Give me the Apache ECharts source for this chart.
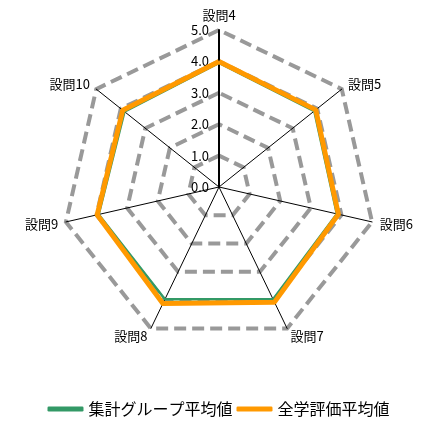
<!DOCTYPE html>
<html>
<head>
<meta charset="utf-8">
<script src="https://cdn.jsdelivr.net/npm/echarts@6/dist/echarts.min.js"></script>
<style>
  html, body { margin: 0; padding: 0; background: #fff; }
  #radar { width: 437px; height: 429px; }
</style>
</head>
<body>
<div id="radar"></div>
<script>
// 設問（上から時計回り）
var questions = ['設問4', '設問5', '設問6', '設問7', '設問8', '設問9', '設問10']
var groupAvg = [3.95, 3.88, 3.85, 3.97, 3.97, 3.93, 3.85]
var allAvg = [4.0, 3.94, 3.9, 4.07, 4.12, 3.98, 3.92]
var seriesNames = ['集計グループ平均値', '全学評価平均値']

// echarts の radar は反時計回りに並ぶので、先頭以外を逆順にする
function toCcw(arr) {
  return [arr[0]].concat(arr.slice(1).reverse())
}

var font = '"Noto Sans CJK JP", sans-serif'
var myChart = echarts.init(document.getElementById('radar'))

var option = {
  animation: false,
  textStyle: { fontFamily: font },
  legend: {
    bottom: 7,
    left: 'center',
    itemWidth: 36,
    itemHeight: 5,
    itemGap: 4,
    icon: 'roundRect',
    textStyle: { fontSize: 16, color: '#000', fontFamily: font },
    data: seriesNames
  },
  radar: {
    center: [219, 187],
    radius: 157,
    shape: 'polygon',
    splitNumber: 5,
    nameGap: 8,
    axisName: { color: '#000', fontSize: 13, fontFamily: font },
    indicator: toCcw(questions).map(function(q, i) {
      // 目盛ラベルは一番上の軸だけ
      return {
        name: q,
        min: 0,
        max: 5,
        axisLabel: { show: i === 0 },
        axisLine: { lineStyle: { color: '#000', width: i === 0 ? 2 : 1 } }
      }
    }),
    axisLine: { lineStyle: { color: '#000', width: 1 } },
    splitLine: {
      lineStyle: { color: '#999', width: 4, type: [12, 6] }
    },
    splitArea: { show: false },
    axisLabel: {
      show: true,
      color: '#000',
      fontSize: 13,
      fontFamily: font,
      margin: 10,
      formatter: function(v) {
        return v.toFixed(1)
      }
    }
  },
  series: [
    {
      type: 'radar',
      symbol: 'none',
      data: [
        {
          name: seriesNames[0],
          value: toCcw(groupAvg),
          lineStyle: { color: '#339966', width: 2.5 },
          itemStyle: { color: '#339966' }
        },
        {
          name: seriesNames[1],
          value: toCcw(allAvg),
          lineStyle: { color: '#FF9900', width: 5 },
          itemStyle: { color: '#FF9900' }
        }
      ]
    }
  ]
}
myChart.setOption(option)
</script>
</body>
</html>
